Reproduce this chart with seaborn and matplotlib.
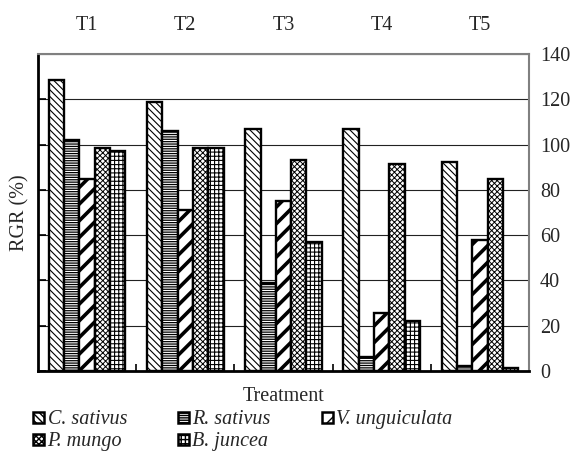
import matplotlib
matplotlib.use("Agg")
import matplotlib.pyplot as plt
from matplotlib.patches import Patch
import seaborn as sns
import pandas as pd

treatments = ["T1", "T2", "T3", "T4", "T5"]
species = ["C. sativus", "R. sativus", "V. unguiculata", "P. mungo", "B. juncea"]
c_sativus = [128.5, 119, 107, 107, 92.5]
r_sativus = [102, 106, 39, 6, 2]
v_unguiculata = [85, 71, 75, 25.5, 58]
p_mungo = [98.5, 98.5, 93, 91.5, 85]
b_juncea = [97, 98.5, 57, 22, 1.5]
y_ticks = [0, 20, 40, 60, 80, 100, 120, 140]

values = [c_sativus, r_sativus, v_unguiculata, p_mungo, b_juncea]
df = pd.DataFrame({
    "Treatment": [t for _ in species for t in treatments],
    "Species": [s for s in species for _ in treatments],
    "RGR": [v for vals in values for v in vals],
})

hatches = ["\\\\\\\\\\", "-------", "//", "xxxxxx", "++++"]
hatch_lw = [0.8, 0.9, 2.6, 0.7, 0.8]

sns.set_theme(style="white")
plt.rcParams["font.family"] = ["Liberation Serif", "DejaVu Serif"]
plt.rcParams["hatch.color"] = "black"

fig = plt.figure(figsize=(5.76, 4.55), dpi=100)
ax = fig.add_axes([38 / 576, 1 - 371 / 455, 491 / 576, 317 / 455])

sns.barplot(data=df, x="Treatment", y="RGR", hue="Species", order=treatments,
            hue_order=species, width=0.78, ax=ax, legend=False)

for cont, h, hl in zip(ax.containers, hatches, hatch_lw):
    for bar in cont:
        bar.set_facecolor("white")
        bar.set_edgecolor("black")
        bar.set_linewidth(1.7)
        bar.set_hatch(h)
        if hasattr(bar, "set_hatch_linewidth"):
            bar.set_hatch_linewidth(hl)

ax.set_ylim(0, 140)
ax.set_xlim(-0.5, 4.5)
ax.set_yticks(y_ticks)
ax.yaxis.grid(True, color="#222222", linewidth=0.8)
ax.set_axisbelow(True)

# category names across the top, boundary ticks along the bottom
ax.xaxis.tick_top()
ax.tick_params(axis="x", which="major", top=False, bottom=False, length=0,
               labeltop=True, labelbottom=False, pad=14, labelsize=14.5)
ax.set_xticks([i - 0.5 for i in range(1, 5)], minor=True)
ax.tick_params(axis="x", which="minor", bottom=True, top=False,
               direction="in", length=5, width=1.2, color="black")

ax.tick_params(axis="y", left=True, right=False, labelleft=False,
               labelright=True, direction="in", length=6, width=1.2,
               color="black", labelsize=14.5, pad=8)

for side in ["left", "bottom"]:
    ax.spines[side].set_color("black")
    ax.spines[side].set_linewidth(2)
for side in ["top", "right"]:
    ax.spines[side].set_color("#808080")
    ax.spines[side].set_linewidth(1.5)

ax.set_xlabel("Treatment", fontsize=14.5)
ax.xaxis.set_label_position("bottom")
ax.xaxis.set_label_coords(0.5, -0.05)
ax.set_ylabel("RGR (%)", fontsize=14.5)
ax.yaxis.set_label_position("left")
ax.yaxis.set_label_coords(-0.018, 0.5)

handles = []
for h, hl in zip(hatches, hatch_lw):
    p = Patch(facecolor="white", edgecolor="black", hatch=h, linewidth=1.8)
    if hasattr(p, "set_hatch_linewidth"):
        p.set_hatch_linewidth(hl)
    handles.append(p)

# legend reads row by row: C, R, V / P, B
order = [0, 3, 1, 4, 2]
fig.legend([handles[i] for i in order], [species[i] for i in order],
           loc="upper left", bbox_to_anchor=(0.058, 0.098),
           ncol=3, frameon=False, handlelength=0.55, handleheight=0.45,
           handletextpad=0.15, columnspacing=2.55, labelspacing=0.15,
           borderaxespad=0, borderpad=0,
           prop={"family": "Liberation Serif", "style": "italic", "size": 14.5})

fig.savefig("out.png", dpi=100)
